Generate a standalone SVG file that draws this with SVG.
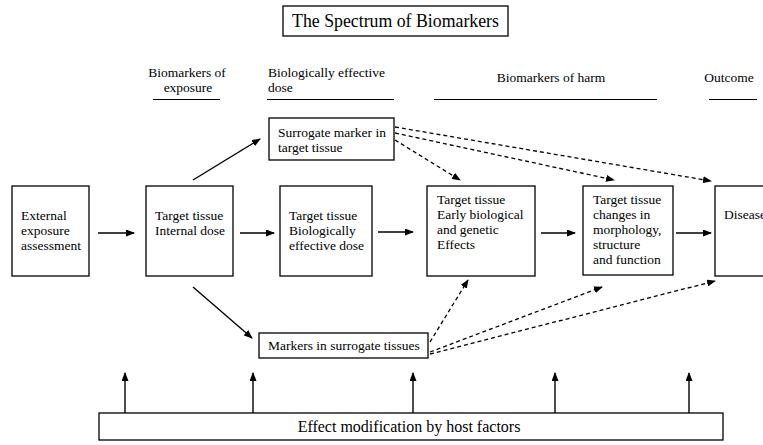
<svg xmlns="http://www.w3.org/2000/svg" width="763" height="445" viewBox="0 0 763 445">
<defs>
<marker id="ah" markerWidth="9" markerHeight="7" refX="8" refY="3.5" orient="auto" markerUnits="userSpaceOnUse">
<path d="M0,0 L9,3.5 L0,7 z" fill="#000"/>
</marker>
</defs>
<style>
text{font-family:"Liberation Serif","Times New Roman",serif;fill:#000}
.t{font-size:13.5px}
.h{font-size:13.5px}
.box{fill:#fff;stroke:#000;stroke-width:1.3}
.c{stroke:#000;stroke-width:1.4;fill:none}
.d{stroke:#000;stroke-width:1.3;fill:none;stroke-dasharray:4 3}
</style>
<rect width="763" height="445" fill="#fff"/>
<g id="title">
<rect class="box" x="283" y="6" width="225" height="30"/>
<text x="395.5" y="27" font-size="17.8" text-anchor="middle">The Spectrum of Biomarkers</text>
</g>
<g id="headers">
<text class="h" x="187" y="77" text-anchor="middle">Biomarkers of</text>
<text class="h" x="188" y="92" text-anchor="middle">exposure</text>
<line x1="153" y1="99.5" x2="220" y2="99.5" stroke="#000"/>
<text class="h" x="268" y="77">Biologically effective</text>
<text class="h" x="268" y="92">dose</text>
<line x1="267" y1="99.5" x2="394" y2="99.5" stroke="#000"/>
<text class="h" x="551" y="82" text-anchor="middle">Biomarkers of harm</text>
<line x1="434" y1="99.5" x2="657" y2="99.5" stroke="#000"/>
<text class="h" x="729" y="82" text-anchor="middle">Outcome</text>
<line x1="709" y1="99.5" x2="757" y2="99.5" stroke="#000"/>
</g>
<g id="n-external">
<rect class="box" x="12" y="186" width="77" height="90"/>
<text class="t" x="21" y="220">External</text>
<text class="t" x="21" y="235">exposure</text>
<text class="t" x="21" y="250">assessment</text>
</g>
<g id="n-internal">
<rect class="box" x="146" y="186" width="87" height="90"/>
<text class="t" x="155" y="220">Target tissue</text>
<text class="t" x="155" y="235">Internal dose</text>
</g>
<g id="n-bed">
<rect class="box" x="280" y="186" width="92" height="90"/>
<text class="t" x="289" y="220">Target tissue</text>
<text class="t" x="289" y="235">Biologically</text>
<text class="t" x="289" y="250">effective dose</text>
</g>
<g id="n-early">
<rect class="box" x="427" y="186" width="108" height="90"/>
<text class="t" x="437" y="204">Target tissue</text>
<text class="t" x="437" y="219">Early biological</text>
<text class="t" x="437" y="234">and genetic</text>
<text class="t" x="437" y="249">Effects</text>
</g>
<g id="n-changes">
<rect class="box" x="583" y="186" width="90" height="89"/>
<text class="t" x="593" y="204">Target tissue</text>
<text class="t" x="593" y="219">changes in</text>
<text class="t" x="593" y="234">morphology,</text>
<text class="t" x="593" y="249">structure</text>
<text class="t" x="593" y="264">and function</text>
</g>
<g id="n-disease">
<rect class="box" x="715" y="186" width="60" height="90"/>
<text class="t" x="724" y="219">Disease</text>
</g>
<g id="n-surrogate-target">
<rect class="box" x="269" y="118" width="125" height="42"/>
<text class="t" x="278" y="137">Surrogate marker in</text>
<text class="t" x="278" y="152">target tissue</text>
</g>
<g id="n-surrogate-tissues">
<rect class="box" x="259" y="333" width="169" height="25"/>
<text class="t" x="268" y="350">Markers in surrogate tissues</text>
</g>
<g id="n-host">
<rect class="box" x="99" y="413" width="624" height="27"/>
<text x="409" y="432" font-size="16" text-anchor="middle">Effect modification by host factors</text>
</g>
<g id="connectors">
<line class="c" x1="98" y1="233" x2="134" y2="233" marker-end="url(#ah)"/>
<line class="c" x1="240" y1="233" x2="274" y2="233" marker-end="url(#ah)"/>
<line class="c" x1="378" y1="232" x2="413" y2="232" marker-end="url(#ah)"/>
<line class="c" x1="541" y1="233" x2="575" y2="233" marker-end="url(#ah)"/>
<line class="c" x1="676" y1="233" x2="711" y2="233" marker-end="url(#ah)"/>
<line class="c" x1="193" y1="180" x2="260" y2="139" marker-end="url(#ah)"/>
<line class="c" x1="193" y1="287" x2="252" y2="338" marker-end="url(#ah)"/>
<line class="d" x1="395" y1="127" x2="711" y2="181" marker-end="url(#ah)"/>
<line class="d" x1="395" y1="133" x2="614" y2="180" marker-end="url(#ah)"/>
<line class="d" x1="395" y1="140" x2="460" y2="180" marker-end="url(#ah)"/>
<line class="d" x1="430" y1="342" x2="468" y2="280" marker-end="url(#ah)"/>
<line class="d" x1="430" y1="352" x2="602" y2="287" marker-end="url(#ah)"/>
<line class="d" x1="430" y1="354" x2="715" y2="281" marker-end="url(#ah)"/>
<line class="c" x1="125" y1="413" x2="125" y2="373" marker-end="url(#ah)"/>
<line class="c" x1="253" y1="413" x2="253" y2="373" marker-end="url(#ah)"/>
<line class="c" x1="413" y1="413" x2="413" y2="373" marker-end="url(#ah)"/>
<line class="c" x1="555" y1="413" x2="555" y2="373" marker-end="url(#ah)"/>
<line class="c" x1="689" y1="413" x2="689" y2="373" marker-end="url(#ah)"/>
</g>
</svg>
